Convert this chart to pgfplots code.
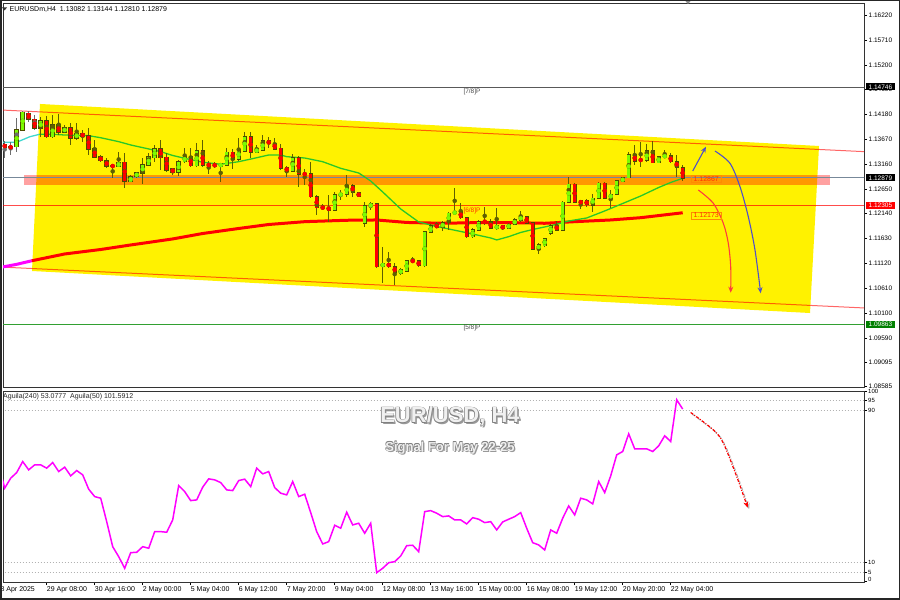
\documentclass[border=0pt]{standalone}
\usepackage{fontspec}
\setmainfont{Liberation Sans}
\usepackage{pgfplots}
\pgfplotsset{compat=1.18}
\usepackage{pgfplotstable}
\usetikzlibrary{arrows.meta}

\definecolor{cgreen}{RGB}{124,252,0}
\definecolor{cred}{RGB}{255,0,0}
\definecolor{wick}{RGB}{95,95,0}
\definecolor{wickgray}{RGB}{110,110,110}
\definecolor{magr}{RGB}{255,0,255}
\definecolor{maline}{RGB}{40,200,40}
\definecolor{macyan}{RGB}{64,216,208}
\definecolor{arrowblue}{RGB}{80,80,200}
\definecolor{arrowred}{RGB}{255,60,60}
\definecolor{tagred}{RGB}{255,0,0}
\definecolor{taggreen}{RGB}{0,128,0}
\definecolor{bidgray}{RGB}{119,136,153}
\definecolor{lvlgreen}{RGB}{50,160,50}
\definecolor{objorange}{RGB}{255,140,0}
\definecolor{objred}{RGB}{255,50,0}

\pgfplotstableread{
i o h l c
-7 1.13568 1.13636 1.13292 1.13498
-6 1.13519 1.13622 1.13348 1.13498
-5 1.13519 1.14115 1.13416 1.13862
-4 1.13862 1.14253 1.13850 1.14227
-3 1.14206 1.14253 1.14033 1.14083
-2 1.14083 1.14171 1.13862 1.13897
-1 1.13897 1.14136 1.13724 1.14047
0 1.14047 1.14157 1.13691 1.13724
1 1.13724 1.14171 1.13691 1.13965
2 1.13965 1.14185 1.13759 1.13815
3 1.13815 1.13965 1.13794 1.13909
4 1.13909 1.14000 1.13554 1.13691
5 1.13691 1.14000 1.13657 1.13794
6 1.13780 1.13862 1.13622 1.13739
7 1.13739 1.13897 1.13348 1.13472
8 1.13486 1.13657 1.13280 1.13301
9 1.13313 1.13348 1.13210 1.13231
10 1.13224 1.13280 1.13074 1.13122
11 1.13125 1.13142 1.12881 1.13120
12 1.13107 1.13416 1.13100 1.13198
13 1.13198 1.13383 1.12663 1.12813
14 1.12799 1.12937 1.12787 1.12902
15 1.12902 1.13005 1.12869 1.12978
16 1.12972 1.13280 1.12745 1.13142
17 1.13142 1.13383 1.13128 1.13313
18 1.13292 1.13554 1.13210 1.13472
19 1.13472 1.13657 1.13040 1.13292
20 1.13301 1.13383 1.12993 1.13040
21 1.13060 1.13087 1.12937 1.12993
22 1.12993 1.13245 1.12923 1.13210
23 1.13210 1.13498 1.13177 1.13313
24 1.13313 1.13486 1.13107 1.13128
25 1.13128 1.13589 1.13107 1.13430
26 1.13430 1.13657 1.13107 1.13142
27 1.13163 1.13224 1.12958 1.13122
28 1.13157 1.13210 1.13074 1.13116
29 1.13116 1.13177 1.12787 1.13163
30 1.13142 1.13486 1.13128 1.13404
31 1.13404 1.13472 1.13060 1.13266
32 1.13266 1.13691 1.13231 1.13451
33 1.13430 1.13815 1.13404 1.13724
34 1.13724 1.13815 1.13280 1.13404
35 1.13404 1.13554 1.13383 1.13472
36 1.13451 1.13759 1.13430 1.13636
37 1.13636 1.13724 1.13486 1.13581
38 1.13589 1.13691 1.13451 1.13472
39 1.13486 1.13568 1.13040 1.13074
40 1.13087 1.13128 1.12902 1.13019
41 1.13019 1.13363 1.13005 1.13292
42 1.13292 1.13334 1.12696 1.12958
43 1.12960 1.13060 1.12731 1.12955
44 1.12958 1.13210 1.12458 1.12491
45 1.12491 1.12526 1.12114 1.12264
46 1.12279 1.12335 1.12217 1.12252
47 1.12273 1.12526 1.11977 1.12217
48 1.12217 1.12582 1.12203 1.12526
49 1.12512 1.12629 1.12423 1.12561
50 1.12540 1.12937 1.12491 1.12717
51 1.12717 1.12745 1.12491 1.12582
52 1.12574 1.12588 1.12485 1.12491
53 1.11944 1.12376 1.11874 1.12300
54 1.12286 1.12388 1.12217 1.12341
55 1.12341 1.12355 1.11018 1.11051
56 1.11051 1.11463 1.10710 1.11121
57 1.11121 1.11360 1.11018 1.11051
58 1.11051 1.11121 1.10675 1.10928
59 1.10916 1.11031 1.10881 1.10984
60 1.10963 1.11189 1.10949 1.11168
61 1.11170 1.11257 1.11121 1.11166
62 1.11168 1.11189 1.11051 1.11072
63 1.11072 1.11785 1.11051 1.11771
64 1.11759 1.11923 1.11738 1.11895
65 1.11909 1.11977 1.11841 1.11862
66 1.11854 1.11991 1.11785 1.11957
67 1.11957 1.12170 1.11806 1.12149
68 1.12149 1.12663 1.12149 1.12182
69 1.12182 1.12355 1.12032 1.12059
70 1.12059 1.12080 1.11647 1.11668
71 1.11668 1.11841 1.11634 1.11806
72 1.11806 1.12012 1.11785 1.11977
73 1.11979 1.12286 1.11909 1.11975
74 1.11977 1.12032 1.11827 1.11841
75 1.11841 1.12252 1.11806 1.11888
76 1.11888 1.11909 1.11806 1.11841
77 1.11841 1.11944 1.11827 1.11923
78 1.11923 1.12046 1.11909 1.12012
79 1.12012 1.12197 1.11977 1.12080
80 1.12080 1.12100 1.11923 1.11944
81 1.11957 1.11977 1.11395 1.11416
82 1.11416 1.11533 1.11306 1.11498
83 1.11484 1.11649 1.11463 1.11622
84 1.11738 1.11923 1.11703 1.11895
85 1.11895 1.11991 1.11785 1.11806
86 1.11806 1.12403 1.11785 1.12376
87 1.12376 1.12902 1.12355 1.12745
88 1.12745 1.12766 1.12355 1.12376
89 1.12403 1.12423 1.12238 1.12355
90 1.12403 1.12444 1.12286 1.12335
91 1.12320 1.12540 1.12182 1.12458
92 1.12458 1.12787 1.12444 1.12766
93 1.12766 1.12787 1.12444 1.12458
94 1.12458 1.12629 1.12252 1.12540
95 1.12540 1.12834 1.12526 1.12813
96 1.12799 1.12902 1.12787 1.12881
97 1.12881 1.13404 1.12869 1.13348
98 1.13348 1.13554 1.13142 1.13224
99 1.13248 1.13622 1.13107 1.13243
100 1.13239 1.13568 1.13210 1.13430
101 1.13430 1.13636 1.13177 1.13190
102 1.13190 1.13334 1.13177 1.13313
103 1.13313 1.13451 1.13280 1.13334
104 1.13334 1.13383 1.13177 1.13210
105 1.13210 1.13348 1.12902 1.13102
106 1.13082 1.13144 1.12810 1.12879
}\candles

\pgfplotstableread{
i v
-7.5 55.08
-7 48.99
-6 54.24
-5 57.19
-4 62.97
-3 58.61
-2 61.23
-1 61.23
0 59.50
1 62.44
2 57.71
3 60.03
4 55.45
5 58.24
6 55.98
7 48.46
8 44.57
9 43.73
10 31.43
11 18.29
12 13.04
13 6.94
14 15.14
15 15.35
16 18.29
17 17.45
18 26.18
19 26.18
20 25.86
21 32.33
22 50.35
23 47.20
24 42.47
25 42.84
26 49.51
27 53.88
28 53.35
29 51.93
30 48.09
31 47.73
32 52.98
33 53.72
34 49.83
35 59.50
36 56.50
37 57.71
38 49.30
39 46.36
40 45.47
41 52.46
42 44.57
43 45.83
44 36.16
45 26.18
46 19.71
47 20.92
48 29.54
49 27.96
50 36.37
51 29.70
52 30.59
53 25.33
54 30.59
55 4.63
56 6.94
57 9.88
58 10.41
59 13.40
60 18.82
61 19.03
62 15.66
63 36.69
64 37.21
65 35.85
66 34.06
67 34.43
68 32.33
69 32.33
70 30.22
71 33.53
72 32.69
73 30.91
74 31.43
75 27.07
76 31.27
77 32.69
78 34.06
79 36.16
80 27.96
81 20.39
82 19.19
83 16.56
84 27.07
85 25.33
86 33.22
87 39.68
88 34.95
89 43.73
90 42.84
91 40.74
92 52.46
93 46.67
94 55.45
95 66.49
96 68.23
97 77.53
98 69.64
99 69.64
100 69.64
101 68.23
102 71.22
103 76.48
104 73.48
105 95.40
106 90.51
}\osc

\pgfplotstableread{
i v
-1.2 1.13773
1 1.13773
3 1.13759
7 1.13745
9 1.13703
12 1.13622
14 1.13554
17 1.13472
19 1.13416
21 1.13338
23 1.13280
26 1.13198
29 1.13157
32 1.13210
35 1.13292
37 1.13348
39 1.13348
40 1.13313
43 1.13286
46 1.13210
49 1.13074
52 1.12978
54 1.12813
56 1.12588
59 1.12238
62 1.11971
65 1.11878
70 1.11750
74 1.11642
75 1.11601
77 1.11669
79 1.11755
81 1.11816
84 1.11895
87 1.11991
90 1.12053
93 1.12197
96 1.12351
99 1.12505
102 1.12680
104 1.12783
106 1.12869
}\magreen

\pgfplotstableread{
i v
-2.5 1.11173
3 1.11313
9 1.11405
14 1.11498
21 1.11622
26 1.11734
32 1.11837
37 1.11919
43 1.11977
50 1.12006
55 1.12012
60 1.11961
66 1.11944
71 1.11956
78 1.11956
83 1.11944
88 1.11977
94 1.12012
99 1.12059
106 1.12160
}\mared

\begin{document}
\begin{tikzpicture}[x=1pt,y=1pt]
\path[use as bounding box] (0,0) rectangle (900,600);
\begin{scope}
\clip (0,0) rectangle (900,600);
\fill[white] (0,0) rectangle (900,600);

% ================= TOP PRICE PANEL =================
\begin{axis}[
  at={(3pt,213pt)}, anchor=south west, scale only axis,
  width=861pt, height=384pt,
  xmin=-7.283, xmax=136.217, ymin=1.08578, ymax=1.16473,
  axis line style={black!80, line width=0.8pt},
  xtick=\empty,
  ytick={1.08585,1.09095,1.0959,1.101,1.1061,1.1112,1.1163,1.1214,1.1265,1.1316,1.1367,1.1418,1.1469,1.152,1.1571,1.1622},
  yticklabels={1.08585,1.09095,1.09590,1.10100,1.10610,1.11120,1.11630,1.12140,1.12650,1.13160,1.13670,1.14180,1.14690,1.15200,1.15710,1.16220},
  ytick pos=right, yticklabel pos=right, tick align=outside, major tick length=3pt,
  tick style={black, line width=0.5pt},
  yticklabel style={font=\fontsize{6.5}{7}\selectfont, inner sep=1.5pt},
  scaled y ticks=false,
]
% yellow channel
\addplot[fill=yellow, draw=none, forget plot] coordinates {(-1.117,1.14397) (128.72,1.13533) (127.22,1.10099) (-2.45,1.10963)} -- cycle;
% zone band
\addplot[fill=red, fill opacity=0.37, draw=none, forget plot] coordinates {(-3.78,1.12931) (130.55,1.12931) (130.55,1.12731) (-3.78,1.12731)} -- cycle;
% channel lines
\addplot[red, opacity=0.6, line width=1pt, forget plot] coordinates {(-7.78,1.14274) (136.4,1.13416)};
\addplot[red, opacity=0.6, line width=1pt, forget plot] coordinates {(-7.78,1.11045) (136.4,1.10202)};
% horizontal levels
\addplot[black!65, line width=0.8pt, forget plot] coordinates {(-8,1.14746) (137,1.14746)};
\addplot[red, opacity=0.7, line width=0.9pt, forget plot] coordinates {(-8,1.12305) (137,1.12305)};
\addplot[lvlgreen, line width=0.9pt, forget plot] coordinates {(-8,1.09863) (137,1.09863)};
\addplot[bidgray, line width=0.7pt, forget plot] coordinates {(-8,1.12879) (137,1.12879)};
% moving averages
\addplot[magr, line width=3pt, forget plot] coordinates {(-7.8,1.11035) (-5,1.11100) (-2.5,1.11173)};
\addplot[cred, line width=3pt, forget plot] table[x=i, y=v] {\mared};
\addplot[macyan, line width=1.3pt, forget plot] coordinates {(-7.8,1.13610) (-5,1.13610) (-2.8,1.13724) (-1.2,1.13773)};
\addplot[maline, line width=1.3pt, forget plot] table[x=i, y=v] {\magreen};
% wicks
\addplot[only marks, mark=none, wickgray, forget plot, restrict x to domain=-8:-1.5,
  error bars/.cd, y dir=both, y explicit, error mark=none,
  error bar style={line width=0.9pt, color=wickgray}]
  table[x=i, y expr={(\thisrow{h}+\thisrow{l})/2}, y error expr={(\thisrow{h}-\thisrow{l})/2}] {\candles};
\addplot[only marks, mark=none, wick, forget plot, restrict x to domain=-1.5:140,
  error bars/.cd, y dir=both, y explicit, error mark=none,
  error bar style={line width=0.9pt, color=wick}]
  table[x=i, y expr={(\thisrow{h}+\thisrow{l})/2}, y error expr={(\thisrow{h}-\thisrow{l})/2}] {\candles};
% body outlines
\addplot[only marks, mark=none, wick, forget plot,
  error bars/.cd, y dir=both, y explicit, error mark=none,
  error bar style={line width=4.4pt, color=wick!80!black}]
  table[x=i, y expr={(\thisrow{o}+\thisrow{c})/2}, y error expr={abs(\thisrow{c}-\thisrow{o})/2+0.00014}] {\candles};
% green bodies
\addplot[only marks, mark=none, cgreen, forget plot,
  restrict expr to domain={\thisrow{c}-\thisrow{o}}{0:1},
  error bars/.cd, y dir=both, y explicit, error mark=none,
  error bar style={line width=2.8pt, color=cgreen}]
  table[x=i, y expr={(\thisrow{o}+\thisrow{c})/2}, y error expr={abs(\thisrow{c}-\thisrow{o})/2}] {\candles};
% red bodies
\addplot[only marks, mark=none, cred, forget plot,
  restrict expr to domain={\thisrow{c}-\thisrow{o}}{-1:0},
  error bars/.cd, y dir=both, y explicit, error mark=none,
  error bar style={line width=2.8pt, color=cred}]
  table[x=i, y expr={(\thisrow{o}+\thisrow{c})/2}, y error expr={abs(\thisrow{c}-\thisrow{o})/2}] {\candles};
% arrows
\addplot[arrowblue, line width=1.1pt, -{Stealth[length=6pt,width=5pt]}, forget plot] coordinates {(107.67,1.13019) (109.88,1.13519)};
\addplot[arrowblue, line width=1.1pt, smooth, -{Stealth[length=6pt,width=5pt]}, forget plot] coordinates {(111.38,1.13430) (113.88,1.13177) (115.55,1.12696) (116.93,1.12080) (118.05,1.11395) (119.0,1.10505)};
\addplot[arrowred, line width=1.1pt, smooth, -{Stealth[length=6pt,width=5pt]}, forget plot] coordinates {(108.6,1.12629) (111.1,1.12355) (112.77,1.11944) (113.6,1.11533) (114.0,1.11051) (114.0,1.10517)};
\end{axis}

% ================= BOTTOM OSCILLATOR PANEL =================
\begin{axis}[
  at={(3pt,18pt)}, anchor=south west, scale only axis,
  width=861pt, height=191pt,
  xmin=-7.283, xmax=136.217, ymin=-0.26, ymax=100,
  axis line style={black!80, line width=0.8pt},
  xtick={0,8,...,104},
  xticklabels={29 Apr 08:00,30 Apr 16:00,2 May 00:00,5 May 04:00,6 May 12:00,7 May 20:00,9 May 04:00,12 May 08:00,13 May 16:00,15 May 00:00,16 May 08:00,19 May 12:00,20 May 20:00,22 May 04:00},
  xtick pos=left, tick align=outside, major tick length=3pt,
  tick style={black, line width=0.5pt},
  xticklabel style={font=\fontsize{7}{8}\selectfont, anchor=north west, inner sep=0pt, yshift=-1.5pt},
  ytick={0,5,10,90,95,100},
  yticklabels={\raisebox{4pt}{0},5,10,90,95,\raisebox{-4pt}{100}},
  ytick pos=right, yticklabel pos=right,
  yticklabel style={font=\fontsize{6}{6}\selectfont, inner sep=1pt},
]
\addplot[black!30, line width=0.5pt, dash pattern=on 1.5pt off 1.5pt, forget plot] coordinates {(-8,95) (137,95)};
\addplot[black!30, line width=0.5pt, dash pattern=on 1.5pt off 1.5pt, forget plot] coordinates {(-8,90) (137,90)};
\addplot[black!30, line width=0.5pt, dash pattern=on 1.5pt off 1.5pt, forget plot] coordinates {(-8,10) (137,10)};
\addplot[black!30, line width=0.5pt, dash pattern=on 1.5pt off 1.5pt, forget plot] coordinates {(-8,5) (137,5)};
\addplot[magr, line width=1.5pt, forget plot] table[x=i, y=v] {\osc};
\addplot[black!30, line width=1.2pt, smooth, dash pattern=on 3pt off 1.5pt on 1pt off 1.5pt, -{Stealth[length=6pt,width=5pt]}, forget plot] coordinates {(107.58,87.9) (111.35,78.8) (113.02,71.8) (115.25,54.3) (117.08,38.0)};
\addplot[red, line width=1.2pt, smooth, dash pattern=on 3pt off 1.5pt on 1pt off 1.5pt, -{Stealth[length=6pt,width=5pt]}, forget plot] coordinates {(107.33,88.72) (111.1,79.63) (112.77,72.64) (115.0,55.08) (116.83,38.79)};
\end{axis}

% ---------- texts and tags ----------
\node[anchor=north west, inner sep=0pt, font=\fontsize{7}{8}\selectfont] at (-3.5,13.5) {28 Apr 2025};
\fill[black!80] (2,592.5) -- (7,592.5) -- (4.5,589.5) -- cycle;
\node[anchor=west, inner sep=0pt, font=\fontsize{7}{8}\selectfont] at (9.5,590.5) {EURUSDm,H4\hspace{4pt}1.13082 1.13144 1.12810 1.12879};
\fill[black!45] (684.5,600) -- (691.5,600) -- (688,596) -- cycle;
\node[anchor=west, inner sep=0pt, font=\fontsize{7}{8}\selectfont, text=black!85] at (3,203.3) {Aguila(240) 53.0777\hspace{4pt}Aguila(50) 101.5912};

\node[font=\fontsize{6.5}{7}\selectfont, text=black!70, inner sep=0pt] at (472,508.5) {[7/8]P};
\node[font=\fontsize{6.5}{7}\selectfont, text=objred, inner sep=0pt] at (472,389.5) {[6/8]P};
\node[font=\fontsize{6.5}{7}\selectfont, text=black!70, inner sep=0pt] at (472,272) {[5/8]P};

\node[draw=objorange, line width=0.6pt, text=objred, font=\fontsize{7}{8}\selectfont, inner xsep=2.5pt, inner ysep=1pt] at (706.2,421) {1.12867};
\node[draw=objorange, line width=0.6pt, text=objred, font=\fontsize{7}{8}\selectfont, inner xsep=2.5pt, inner ysep=1pt] at (706.2,384.5) {1.12173};

\node[fill=black, text=white, font=\fontsize{6.5}{7}\selectfont, inner xsep=3pt, inner ysep=1.2pt, anchor=west] at (865.5,513) {1.14746};
\node[fill=black, text=white, font=\fontsize{6.5}{7}\selectfont, inner xsep=3pt, inner ysep=1.2pt, anchor=west] at (865.5,422.2) {1.12879};
\node[fill=tagred, text=white, font=\fontsize{6.5}{7}\selectfont, inner xsep=3pt, inner ysep=1.2pt, anchor=west] at (865.5,394.3) {1.12305};
\node[fill=taggreen, text=white, font=\fontsize{6.5}{7}\selectfont, inner xsep=3pt, inner ysep=1.2pt, anchor=west] at (865.5,275.5) {1.09863};

% embossed titles (shadow, edge, face)
\def\ttlA{\fontsize{22}{22}\selectfont\bfseries EUR/USD, H4}
\def\ttlB{\fontsize{13}{13}\selectfont\bfseries Signal For May 22-25}
\node[text=black!40] at (451.5,182) {\ttlA};
\foreach \dx/\dy in {0.6/0.6,-0.6/0.6,-0.6/-0.6}{
  \node[text=black!50] at (450+\dx,183.5+\dy) {\ttlA};
}
\node[text=black!6] at (450,183.5) {\ttlA};
\node[text=black!40] at (451.2,150.8) {\ttlB};
\foreach \dx/\dy in {0.45/0.45,-0.45/0.45,-0.45/-0.45}{
  \node[text=black!50] at (450+\dx,152+\dy) {\ttlB};
}
\node[text=black!6] at (450,152) {\ttlB};

\draw[black!85, line width=1.5pt] (0.75,0.75) rectangle (899.25,599.25);
\end{scope}
\end{tikzpicture}
\end{document}
